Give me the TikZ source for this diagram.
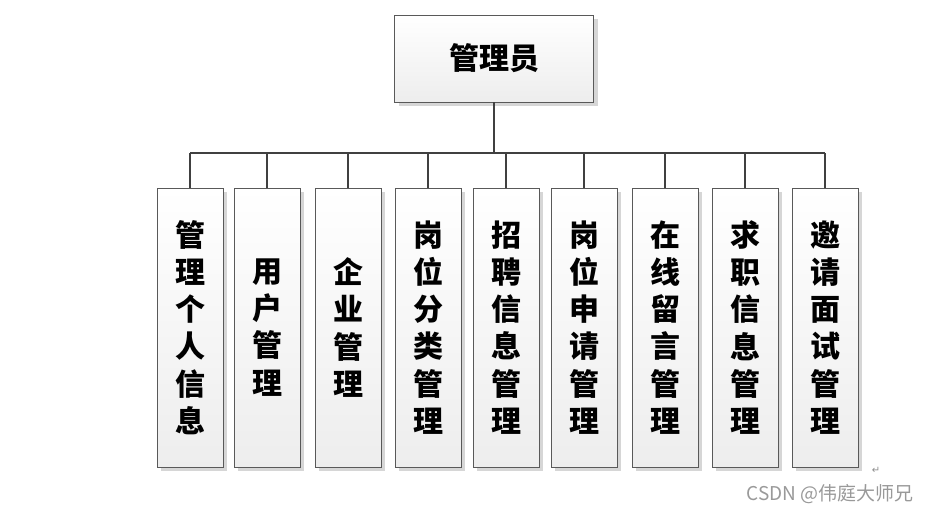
\documentclass[tikz,border=0pt]{standalone}
\usepackage{fontspec}
\newfontfamily\cjk{Noto Sans CJK SC}
\newfontfamily\symfont{DejaVu Sans}
\usetikzlibrary{shadows}

\tikzset{
  modbox/.style={draw=black!65, line width=0.9pt, top color=white, bottom color=black!7,
    drop shadow={shadow xshift=4pt, shadow yshift=-4pt, fill=black!16, opacity=1},
    font=\cjk\bfseries\fontsize{30}{37.2}\selectfont, align=center, inner sep=0pt},
  submod/.style={modbox, minimum width=66pt, minimum height=279pt},
  link/.style={draw=black!75, line width=2.4pt}
}

\begin{document}
\begin{tikzpicture}[x=1pt, y=-1pt]
  \useasboundingbox (0,0) rectangle (931,514);

  % Root
  \node[modbox, minimum width=199pt, minimum height=87pt] (admin) at (494,58.5) {管理员};

  % Modules
  \node[submod] (m1) at (190,327.5) {管\\理\\个\\人\\信\\息};
  \node[submod] (m2) at (267,327.5) {用\\户\\管\\理};
  \node[submod] (m3) at (348,327.5) {企\\业\\管\\理};
  \node[submod] (m4) at (428,327.5) {岗\\位\\分\\类\\管\\理};
  \node[submod] (m5) at (506,327.5) {招\\聘\\信\\息\\管\\理};
  \node[submod] (m6) at (584,327.5) {岗\\位\\申\\请\\管\\理};
  \node[submod] (m7) at (665,327.5) {在\\线\\留\\言\\管\\理};
  \node[submod] (m8) at (745,327.5) {求\\职\\信\\息\\管\\理};
  \node[submod] (m9) at (825,327.5) {邀\\请\\面\\试\\管\\理};

  % Connectors
  \coordinate (bar) at (494,153);
  \draw[link] (admin.south) -- (bar);
  \draw[link] (m1.north |- bar) -- (m9.north |- bar);
  \foreach \m in {m1,m2,m3,m4,m5,m6,m7,m8,m9}
    \draw[link] (\m.north |- bar) -- (\m.north);

  % Watermark
  \node[font=\symfont\fontsize{10}{10}\selectfont, text=black!45] (ret) at (876,470) {↵};
  \node[font=\cjk\fontsize{19}{19}\selectfont, text=black!40] (mark) at (830,494) {CSDN @伟庭大师兄};
\end{tikzpicture}
\end{document}
